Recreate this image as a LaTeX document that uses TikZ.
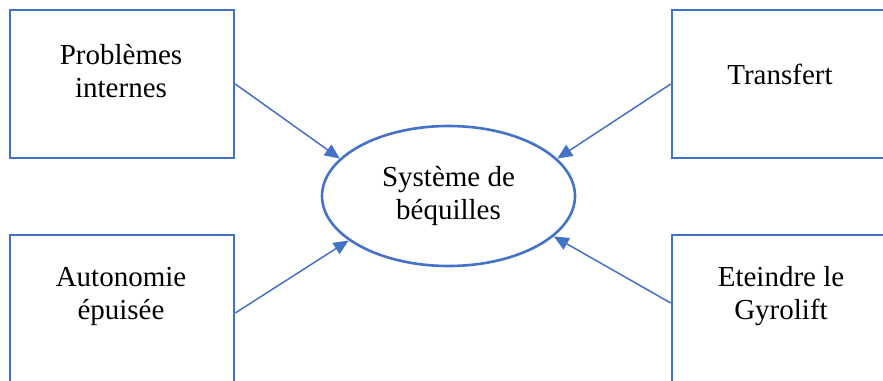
\documentclass[tikz,border=0pt]{standalone}
\usepackage{fontspec}
\setmainfont{Liberation Serif}
\usetikzlibrary{shapes.geometric,arrows.meta}
\definecolor{wordblue}{RGB}{68,114,196}
\tikzset{
  box/.style={draw=wordblue, line width=2.6pt, minimum width=224pt, minimum height=148pt, inner sep=0pt},
  lbl/.style={align=center, font=\fontsize{29}{33}\selectfont, inner sep=0pt},
  oval/.style={ellipse, draw=wordblue, line width=2.6pt, minimum width=253pt, minimum height=140pt, inner sep=0pt, align=center, font=\fontsize{29}{33}\selectfont},
  arr/.style={draw=wordblue, line width=1.5pt, -{Triangle[length=15pt,width=13pt]}}
}
\begin{document}
\begin{tikzpicture}[x=1pt,y=-1pt]
\useasboundingbox (0,0) rectangle (883,380);
\clip (0,0) rectangle (883,380);
\fill[white] (0,0) rectangle (883,380);
\node[box] (b1) at (122,84) {};
\node[box] (b2) at (784,84) {};
\node[box] (b3) at (122,309) {};
\node[box] (b4) at (784,309) {};
\node[lbl] (t1) at (121,71) {Problèmes\\internes};
\node[lbl] (t2) at (780,74) {Transfert};
\node[lbl] (t3) at (121,296) {Autonomie\\épuisée};
\node[lbl] (t4) at (781,296) {Eteindre le\\Gyrolift};
\node[oval] (ell) at (448.5,196) {Système de\\béquilles};
\draw[arr] (b1.east) -- (ell.161);
\draw[arr] (b2.west) -- (ell.19);
\draw[arr] ([yshift=-4pt]b3.east) -- (ell.204);
\draw[arr] ([yshift=6pt]b4.west) -- (ell.339);
\end{tikzpicture}
\end{document}
